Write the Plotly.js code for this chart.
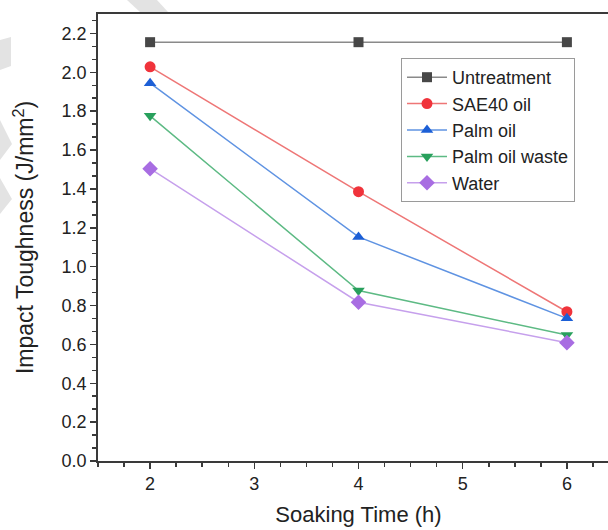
<!DOCTYPE html>
<html>
<head>
<meta charset="utf-8">
<script src="https://cdn.plot.ly/plotly-3.0.1.min.js"></script>
<style>
html, body { margin: 0; padding: 0; overflow: hidden; background: #fff; }
#chart { width: 640px; height: 530px; }
</style>
</head>
<body>
<div id="chart"></div>
<script>
// ---- data ----
const soakingTime = [2, 4, 6];
const seriesNames = ["Untreatment", "SAE40 oil", "Palm oil", "Palm oil waste", "Water"];
const untreatment = [2.155, 2.155, 2.155];
const sae40Oil = [2.028, 1.386, 0.768];
const palmOil = [1.944, 1.153, 0.734];
const palmOilWaste = [1.776, 0.877, 0.648];
const water = [1.504, 0.817, 0.609];
const xTicks = [2, 3, 4, 5, 6];
const yTicks = [0.0, 0.2, 0.4, 0.6, 0.8, 1.0, 1.2, 1.4, 1.6, 1.8, 2.0, 2.2];

// ---- styles ----
const styles = [
  {marker: "#474747", line: "#8a8a8a", symbol: "square", size: 10},
  {marker: "#f0333b", line: "#ee7676", symbol: "circle", size: 11},
  {marker: "#1c5fd6", line: "#5f93e2", symbol: "triangle-up", size: 11},
  {marker: "#28a05c", line: "#5dba84", symbol: "triangle-down", size: 11},
  {marker: "#a86de2", line: "#c6a0ec", symbol: "diamond", size: 12}
];
const allSeries = [untreatment, sae40Oil, palmOil, palmOilWaste, water];

const traces = allSeries.map((ys, i) => ({
  type: "scatter",
  mode: "lines+markers",
  name: seriesNames[i],
  x: soakingTime,
  y: ys,
  line: {color: styles[i].line, width: 1.5},
  marker: {color: styles[i].marker, symbol: styles[i].symbol, size: styles[i].size, line: {width: 0}},
  cliponaxis: false
}));

// watermark helper (pixel -> paper)
const L = 98, T = 14, W = 521, H = 447;
function pp(pts) {
  return "M" + pts.map(p => ((p[0] - L) / W).toFixed(4) + "," + ((T + H - p[1]) / H).toFixed(4)).join(" L") + " Z";
}
const wmColor = "#e3e3e3";
const watermark = [
  [[127, 0], [157, 0], [168, 12], [140, 12]],
  [[0, 40], [11, 37], [11, 66], [0, 70]],
  [[0, 120], [12, 144], [0, 160]],
  [[0, 178], [12, 199], [0, 214]]
].map(pts => ({type: "path", xref: "paper", yref: "paper", path: pp(pts), fillcolor: wmColor, line: {width: 0}, layer: "below"}));

const axisColor = "#3a3a3a";
const fontFam = "'Liberation Sans', Arial, sans-serif";

const layout = {
  width: 640,
  height: 530,
  margin: {l: L, r: 640 - L - W, t: T, b: 530 - T - H, pad: 0},
  paper_bgcolor: "#ffffff",
  plot_bgcolor: "#ffffff",
  font: {family: fontFam, color: "#222"},
  showlegend: true,
  legend: {
    x: (401 - L) / W, y: (T + H - 58) / H, xanchor: "left", yanchor: "top",
    bordercolor: "#9a9a9a", borderwidth: 1, bgcolor: "#ffffff",
    font: {size: 18, family: fontFam, color: "#222"},
    tracegroupgap: 0, itemwidth: 40
  },
  xaxis: {
    range: [1.5, 6.5],
    tickvals: xTicks,
    ticktext: xTicks.map(String),
    ticks: "outside", ticklen: 6, tickwidth: 1.5, tickcolor: axisColor,
    minor: {dtick: 0.25, tick0: 0, ticks: "outside", ticklen: 4, tickwidth: 1.5, tickcolor: axisColor},
    showline: true, linecolor: axisColor, linewidth: 1.8, mirror: true,
    showgrid: false, zeroline: false,
    tickfont: {size: 18, family: fontFam, color: "#222"},
    title: {text: "Soaking Time (h)", font: {size: 22, family: fontFam, color: "#222"}, standoff: 13},
    automargin: false
  },
  yaxis: {
    range: [0, 2.3],
    tickvals: yTicks,
    ticktext: yTicks.map(v => v.toFixed(1)),
    ticks: "outside", ticklen: 6, tickwidth: 1.5, tickcolor: axisColor,
    minor: {dtick: 0.2 / 3, tick0: 0, ticks: "outside", ticklen: 4, tickwidth: 1.5, tickcolor: axisColor},
    showline: true, linecolor: axisColor, linewidth: 1.8, mirror: true,
    showgrid: false, zeroline: false,
    tickfont: {size: 18, family: fontFam, color: "#222"},
    title: {text: "Impact Toughness (J/mm<sup>2</sup>)", font: {size: 23, family: fontFam, color: "#222"}, standoff: 21},
    automargin: false
  },
  shapes: watermark
};

Plotly.newPlot("chart", traces, layout, {displayModeBar: false, staticPlot: true});
</script>
</body>
</html>
